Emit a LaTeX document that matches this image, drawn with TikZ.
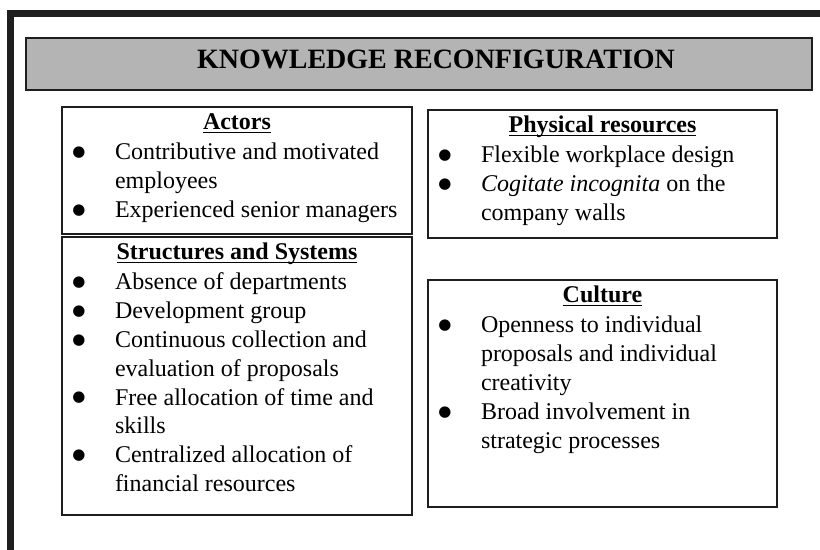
\documentclass[tikz,border=0pt]{standalone}
\usepackage{fontspec}
\setmainfont{Liberation Serif}
\newfontfamily\dotfont{DejaVu Sans}
\usepackage{tikz}
\usetikzlibrary{positioning}

\definecolor{titlegray}{RGB}{180,180,180}
\definecolor{linegray}{RGB}{30,30,30}

\newcommand{\uhead}[1]{\setbox0\hbox{\textbf{#1}}\rlap{\rule[-1.6pt]{\wd0}{0.6pt}}\box0}
\newcommand{\bigdot}{\raisebox{1.6pt}{\dotfont\fontsize{7.5}{7.5}\selectfont ●}}
\newcommand{\bitem}[1]{\par\hangindent=26.5pt\hangafter=1\noindent\makebox[26.5pt][l]{\hspace{5.2pt}\bigdot}#1}
\newcommand{\boxbody}[4]{\parbox[t][#2][t]{#1}{\fontsize{12}{14.4}\selectfont\raggedright\parindent=0pt
  \makebox[\linewidth]{\rule{0pt}{11.5pt}\uhead{#3}}\par\vspace{0.6pt}#4}}

\begin{document}
\begin{tikzpicture}[x=0.5pt,y=-0.5pt,
    panel/.style={draw=linegray,line width=1pt,inner sep=0pt,outer sep=0pt,anchor=north west},
    titlebox/.style={draw=linegray,line width=1.2pt,fill=titlegray,inner sep=0pt,outer sep=0pt,
      minimum width=393pt,minimum height=26pt,anchor=north west,text depth=5pt,
      font=\fontsize{14}{16}\selectfont\bfseries}]
  \useasboundingbox (0,0) rectangle (820,550);
  \draw[linegray,line width=3.5pt] (10.5,550) -- (10.5,13.5) -- (820,13.5);

  \node[titlebox] (title) at (26,38) {\hspace*{17pt}KNOWLEDGE RECONFIGURATION};

  \node[panel] (actors) at (62,107) {\boxbody{175pt}{63.5pt}{Actors}{%
    \bitem{Contributive and motivated\newline employees}
    \bitem{Experienced senior managers}}};
  \node[panel] (structures) [below = 1.5pt of actors] {\boxbody{175pt}{139pt}{Structures and Systems}{%
    \bitem{Absence of departments}
    \bitem{Development group}
    \bitem{Continuous collection and\newline evaluation of proposals}
    \bitem{Free allocation of time and\newline skills}
    \bitem{Centralized allocation of\newline financial resources}}};

  \node[panel] (physical) at (428,110) {\boxbody{174.5pt}{64pt}{Physical resources}{%
    \bitem{Flexible workplace design}
    \bitem{\textit{Cogitate incognita} on the\newline company walls}}};
  \node[panel] (culture) [below = 21pt of physical] {\boxbody{174.5pt}{113.5pt}{Culture}{%
    \bitem{Openness to individual\newline proposals and individual\newline creativity}
    \bitem{Broad involvement in\newline strategic processes}}};
\end{tikzpicture}
\end{document}
